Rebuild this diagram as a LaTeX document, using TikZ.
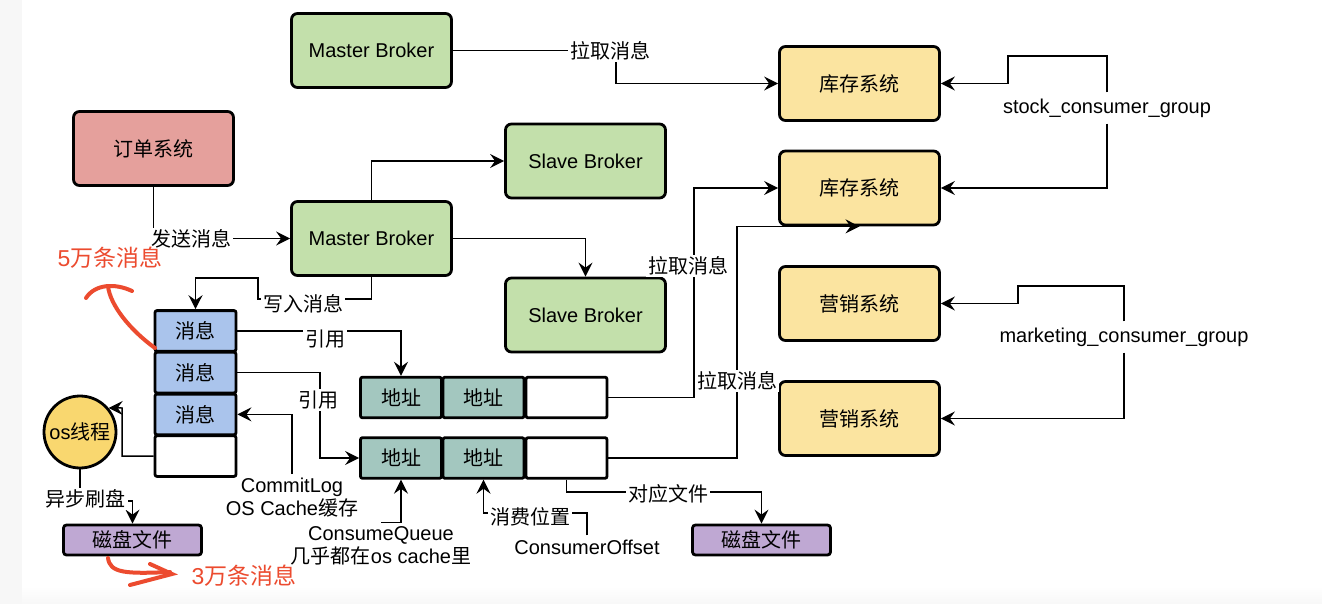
\documentclass[tikz,border=0pt]{standalone}
\usepackage{fontspec}
\setmainfont{Liberation Sans}
\newfontfamily\cjk{Noto Sans CJK SC}
\usepackage{tikz}
\usetikzlibrary{arrows.meta,positioning,calc}
\usepackage{xcolor}
\definecolor{brokergreen}{HTML}{C3E0AB}
\definecolor{orderred}{HTML}{E5A09C}
\definecolor{sysyellow}{HTML}{FBE4A0}
\definecolor{msgblue}{HTML}{AAC4EC}
\definecolor{addrteal}{HTML}{A3C7BF}
\definecolor{diskpurple}{HTML}{BFA8D3}
\definecolor{osyellow}{HTML}{F9D76F}
\definecolor{annored}{HTML}{EC4B2F}
\newcommand{\zh}[1]{{\cjk #1}}

\begin{document}
\begin{tikzpicture}[x=0.5pt, y=-0.5pt,
    box/.style={draw, line width=1.4pt, rounded corners=3pt, minimum width=80pt, minimum height=37pt, inner sep=0pt, font=\fontsize{10}{12}\selectfont},
    cell/.style={draw, line width=1.4pt, rounded corners=1pt, minimum width=40.5pt, minimum height=20.3pt, inner sep=0pt, font=\fontsize{10}{12}\selectfont},
    disk/.style={draw, line width=1.4pt, rounded corners=1.5pt, fill=diskpurple, minimum width=69pt, minimum height=15pt, inner sep=0pt, font=\fontsize{10}{12}\selectfont},
    lbl/.style={fill=white, inner sep=1pt, font=\fontsize{10}{12}\selectfont},
    txt/.style={inner sep=2pt, font=\fontsize{10}{11.5}\selectfont},
    link/.style={line width=0.75pt},
    arrow/.style={link, -{Stealth[length=7pt, width=7pt, inset=2.5pt]}},
    redmark/.style={draw=annored, line width=2pt, line cap=round},
    redtext/.style={text=annored, font=\fontsize{11.5}{13}\selectfont}]

    % page
    \fill[white] (0,0) rectangle (1322,604);
    \fill[gray!6] (0,0) rectangle (22,604);
    \shade[top color=white, bottom color=gray!6] (22,586) rectangle (1322,604);
    \useasboundingbox (0,0) rectangle (1322,604);

    % brokers and systems
    \node[box, fill=brokergreen] (mb1) at (371.5,50.5) {Master Broker};
    \node[box, fill=orderred] (order) at (153.5,148.5) {\zh{订单系统}};
    \node[box, fill=brokergreen] (mb2) at (371.5,238.5) {Master Broker};
    \node[box, fill=brokergreen] (slave1) at (585.5,161) {Slave Broker};
    \node[box, fill=brokergreen] (slave2) at (585.5,315) {Slave Broker};
    \node[box, fill=sysyellow] (stock1) at (859.5,83.5) {\zh{库存系统}};
    \node[box, fill=sysyellow] (stock2) at (859.5,188) {\zh{库存系统}};
    \node[box, fill=sysyellow] (mkt1) at (859.5,303.5) {\zh{营销系统}};
    \node[box, fill=sysyellow] (mkt2) at (859.5,418.5) {\zh{营销系统}};

    % commitlog
    \foreach \y [count=\i] in {330.9,372.6,414.4}
        \node[cell, fill=msgblue] (msg\i) at (195.5,\y) {\zh{消息}};
    \node[cell] (msg4) at (195.5,456.1) {};

    % consumequeue
    \foreach \r/\y in {1/397.5,2/458} {
        \node[cell, fill=addrteal] (q\r-a) at (401,\y) {\zh{地址}};
        \node[cell, fill=addrteal] (q\r-b) at (483.5,\y) {\zh{地址}};
        \node[cell] (q\r-c) at (566.5,\y) {};
    }

    \node[circle, draw, line width=1.4pt, fill=osyellow, minimum size=36pt, inner sep=0pt, font=\fontsize{10}{12}\selectfont] (os) at (80,432) {os\zh{线程}};
    \node[disk] (disk1) at (132.5,540) {\zh{磁盘文件}};
    \node[disk] (disk2) at (761.5,540) {\zh{磁盘文件}};

    % connectors under labels
    \draw[arrow] (mb1.east) -- (616,50.5) |- (stock1.west);
    \draw[arrow] (mb2.north) |- (slave1.west);
    \draw[arrow] (mb2.east) -| (slave2.north);
    \draw[arrow] (order.south) |- (mb2.west);
    \draw[arrow] (mb2.south) -- (371.5,299) -- (258,299) -- (258,278) -| (msg1.north);
    \draw[arrow] (msg1.east) -| (q1-a.north);
    \draw[arrow] (msg2.east) -- (320,372.6) |- (q2-a.west);
    \draw[arrow] (msg4.west) -| (122,408) -- (os.40);
    \draw[arrow] (os.south) -- (80,501) -| (disk1.north);
    \draw[arrow] (q2-c.south) -- (566.5,492) -| (disk2.north);
    \draw[arrow] (q1-c.east) -- (694,397.5) |- (stock2.west);
    \draw[arrow] (q2-c.east) -- (737,458) |- (stock2.south);

    \node[txt] (off) at (587,547) {ConsumerOffset};
    \draw[arrow] (off.north) -- (587,513) -| (q2-b.south);

    % labels
    \node[lbl] (pull1) at (610,51) {\zh{拉取消息}};
    \node[lbl] (send) at (191,239) {\zh{发送消息}};
    \node[lbl] (write) at (303,304) {\zh{写入消息}};
    \node[lbl] (ref1) at (325,339) {\zh{引用}};
    \node[lbl] (ref2) at (318,400) {\zh{引用}};
    \node[lbl] (pull2) at (688,266) {\zh{拉取消息}};
    \node[lbl] (pull3) at (737,381) {\zh{拉取消息}};
    \node[lbl] (file) at (668,494) {\zh{对应文件}};
    \node[lbl] (flush) at (86,499) {\zh{异步刷盘}};
    \node[lbl] (pos) at (530,517) {\zh{消费位置}};

    % notes with their own connectors
    \node[txt, align=center] (cl) at (292,498) {CommitLog\\OS Cache\zh{缓存}};
    \draw[arrow] (cl.north) |- (msg3.east);
    \node[txt, align=center] (cq) at (381,546) {ConsumeQueue\\\zh{几乎都在}os cache\zh{里}};
    \draw[arrow] (cq.north) -| (q2-a.south);

    % consumer groups
    \node[txt, inner ysep=3pt] (sg) at (1107,108) {stock\_consumer\_group};
    \draw[arrow] (sg.north) |- (1008,56) |- (stock1.east);
    \draw[arrow] (sg.south) |- (stock2.east);
    \node[txt, inner ysep=3pt] (mg) at (1124,337) {marketing\_consumer\_group};
    \draw[arrow] (mg.north) |- (1018,286) |- (mkt1.east);
    \draw[arrow] (mg.south) |- (mkt2.east);

    % red notes
    \node[redtext] (note5) at (110,258) {5\zh{万条消息}};
    \draw[redmark] (155,348) .. controls (130,330) and (110,305) .. (108,286);
    \draw[redmark] (132,291) .. controls (115,283) and (95,284) .. (86,298);
    \node[redtext] (note3) at (244,576) {3\zh{万条消息}};
    \draw[redmark] (108,558) .. controls (110,573) and (125,574) .. (170,572);
    \draw[redmark] (150,564) -- (172,574) -- (130,585);
\end{tikzpicture}
\end{document}
